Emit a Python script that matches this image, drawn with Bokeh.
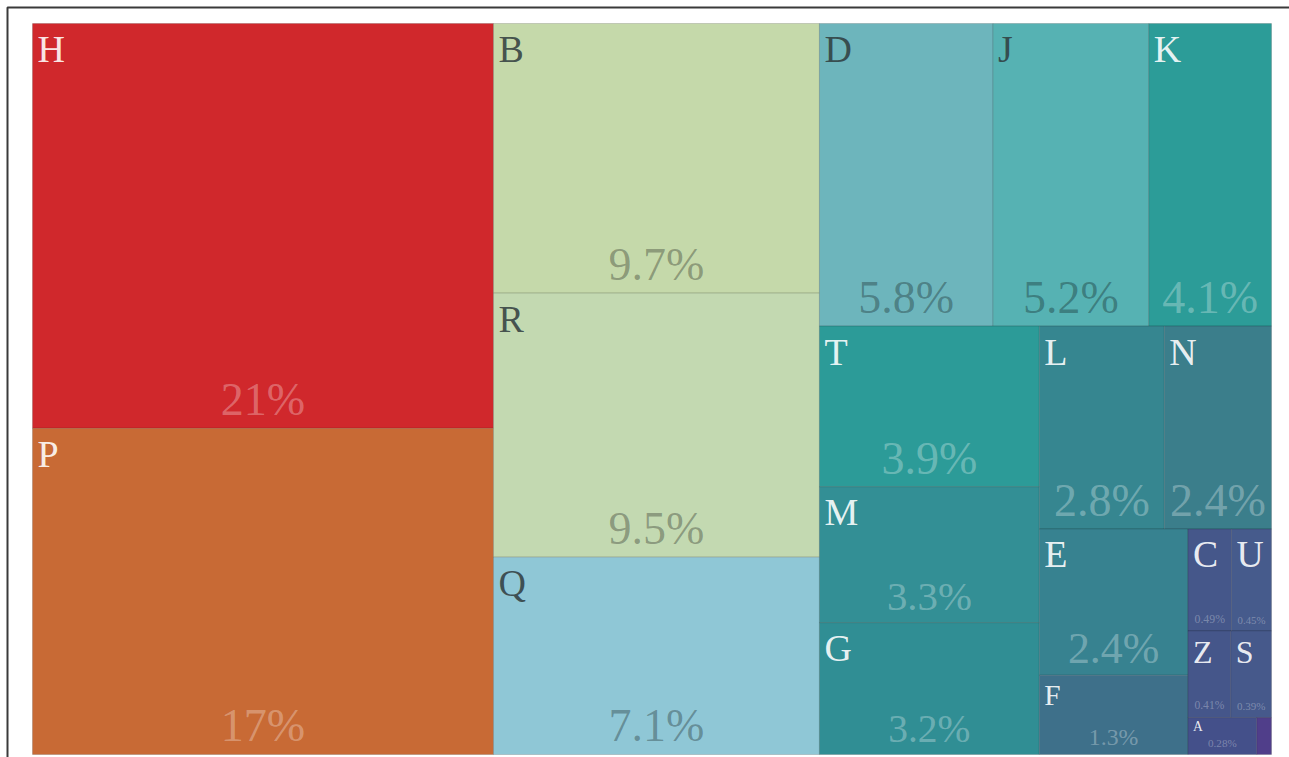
from bokeh.plotting import figure
from bokeh.models import ColumnDataSource, Range1d, BoxAnnotation
from bokeh.core.properties import value
from bokeh.embed import file_html
from bokeh.resources import INLINE

# ---- data ----
labels = ["H", "P", "B", "R", "Q", "D", "J", "K", "T", "M", "G",
          "L", "N", "E", "F", "C", "U", "Z", "S", "A", "Y"]
shares = [20.6, 16.6, 9.7, 9.5, 7.1, 5.8, 5.2, 4.1, 3.9, 3.3, 3.2,
          2.8, 2.4, 2.4, 1.3, 0.49, 0.45, 0.41, 0.39, 0.28, 0.06]
colors = ["#D0282C", "#C86A35", "#C5D9AA", "#C3D9B1", "#8FC7D6", "#6DB5BC",
          "#56B2B3", "#2C9C98", "#2C9B98", "#338F95", "#308E94", "#368690",
          "#3B7E8B", "#378290", "#3E708A", "#45578A", "#465B8C", "#45568A",
          "#46598B", "#44508A", "#503E8A"]

# ---- layout (d3-style squarify, golden ratio) ----
W, H = 1289, 757
X0, X1, Y0, Y1 = 32, 1271, 23, 754
PHI = (1 + 5 ** 0.5) / 2
SHIFT = 0.33  # svg alphabetic baseline correction (em)


def squarify(vals, x0, y0, x1, y1, ratio=PHI):
    rects = [None] * len(vals)
    total = float(sum(vals))
    n = len(vals)
    i0 = i1 = 0
    while i0 < n:
        dx, dy = x1 - x0, y1 - y0
        s = vals[i1]
        i1 += 1
        mn = mx = s
        alpha = max(dy / dx, dx / dy) / (total * ratio)
        beta = s * s * alpha
        minr = max(mx / beta, beta / mn)
        while i1 < n:
            v = vals[i1]
            s2 = s + v
            mn2, mx2 = min(mn, v), max(mx, v)
            beta = s2 * s2 * alpha
            nr = max(mx2 / beta, beta / mn2)
            if nr > minr:
                break
            s, mn, mx, minr = s2, mn2, mx2, nr
            i1 += 1
        if dx < dy:
            yb = y0 + dy * s / total
            cx = x0
            for i in range(i0, i1):
                w = dx * vals[i] / s
                rects[i] = (cx, y0, cx + w, yb)
                cx += w
            y0 = yb
        else:
            xb = x0 + dx * s / total
            cy = y0
            for i in range(i0, i1):
                h = dy * vals[i] / s
                rects[i] = (x0, cy, xb, cy + h)
                cy += h
            x0 = xb
        total -= s
        i0 = i1
    return rects


rects = squarify(shares, X0, Y0, X1, Y1)


def fmt(v):
    if v >= 10:
        return f"{v:.0f}%"
    if v >= 1:
        return f"{v:.1f}%"
    return f"{v:.2f}%"


def em_width(t):
    w = 0.0
    for ch in t:
        w += 0.833 if ch == "%" else (0.25 if ch == "." else 0.5)
    return w


def bright(c):
    r, g, b = int(c[1:3], 16), int(c[3:5], 16), int(c[5:7], 16)
    return 0.299 * r + 0.587 * g + 0.114 * b


left = [r[0] for r in rects]
top = [r[1] for r in rects]
right = [r[2] for r in rects]
bottom = [r[3] for r in rects]

src = ColumnDataSource(dict(left=left, right=right, top=top, bottom=bottom, color=colors))

lx, ly, lt, lfs, lcol, lal = [], [], [], [], [], []
px, py, pt, pfs, pcol = [], [], [], [], []
for lab, v, c, (x0, y0, x1, y1) in zip(labels, shares, colors, rects):
    w, h = x1 - x0, y1 - y0
    if w < 25:
        continue
    light = bright(c) > 140
    fs_l = min(38.0, 0.37 * h)
    lx.append(x0 + 5)
    ly.append(y0 + 1.0 * fs_l - SHIFT * fs_l)
    lt.append(lab)
    lfs.append(f"{fs_l:.1f}px")
    lcol.append("#2f3b3d" if light else "#ffffff")
    lal.append(0.85 if light else 0.9)
    t = fmt(v)
    k = 0.92 if w >= 80 else 0.7
    fs_p = min(46.0, 0.3 * h, k * w / em_width(t))
    px.append((x0 + x1) / 2)
    py.append(y1 - (6 + 0.16 * fs_p) - SHIFT * fs_p)
    pt.append(t)
    pfs.append(f"{fs_p:.1f}px")
    pcol.append("#000000" if light else "#ffffff")

lsrc = ColumnDataSource(dict(x=lx, y=ly, text=lt, fs=lfs, color=lcol, alpha=lal))
psrc = ColumnDataSource(dict(x=px, y=py, text=pt, fs=pfs, color=pcol))

p = figure(width=W, height=H, output_backend="svg", toolbar_location=None,
           x_range=Range1d(0, W), y_range=Range1d(H, 0),
           min_border=0, min_border_left=0, min_border_right=0,
           min_border_top=0, min_border_bottom=0)
p.axis.visible = False
p.grid.visible = False
p.outline_line_color = None
p.background_fill_color = "white"
p.border_fill_color = "white"

p.quad(left="left", right="right", top="top", bottom="bottom", source=src,
       fill_color="color", line_color="black", line_alpha=0.15, line_width=1)

p.text(x="x", y="y", text="text", source=lsrc, text_font=value("Liberation Serif"),
       text_font_size="fs", text_color="color", text_alpha="alpha",
       text_align="left", text_baseline="alphabetic")
p.text(x="x", y="y", text="text", source=psrc, text_font=value("Liberation Serif"),
       text_font_size="fs", text_color="color", text_alpha=0.3,
       text_align="center", text_baseline="alphabetic")

# page frame (top and left edges only visible)
p.add_layout(BoxAnnotation(left=7, top=7, right=W + 20, bottom=H + 20,
                           fill_alpha=0, line_color="#3a3a3a", line_alpha=1.0,
                           line_width=2))

open("out.html", "w").write(file_html(p, INLINE))
